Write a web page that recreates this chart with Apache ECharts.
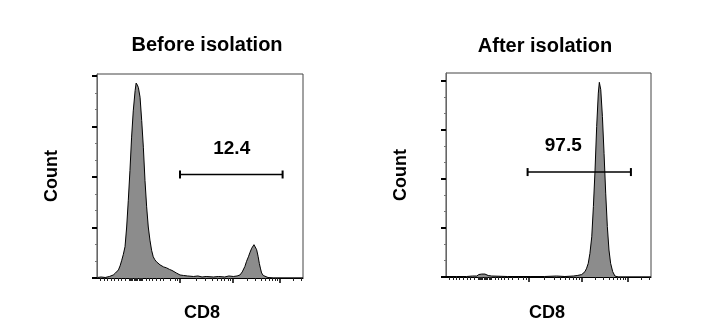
<!DOCTYPE html>
<html>
<head>
<meta charset="utf-8">
<script src="https://cdn.jsdelivr.net/npm/echarts@6.0.0/dist/echarts.min.js"></script>
<style>
  html, body { margin: 0; padding: 0; background: #fff; }
  #main { width: 713px; height: 334px; }
</style>
</head>
<body>
<div id="main"></div>
<script>
// x is in display units 0..100 (biexponential CD8 scale), y is count in axis units
const beforeData = [
  [0.2, 0.01], [2, 0.02], [4, 0.01], [6, 0.03], [7.9, 0.06], [9, 0.1], [10.4, 0.16], [11.2, 0.24],
  [12, 0.35], [12.8, 0.47], [13.6, 0.62], [14.4, 1.01], [15.2, 1.54], [16, 2.13], [16.8, 2.79],
  [17.6, 3.31], [18.5, 3.71], [19.0, 3.86], [19.3, 3.89], [19.6, 3.82], [20.1, 3.77], [20.9, 3.58],
  [21.7, 3.12], [22.5, 2.59], [23.3, 1.93], [24.1, 1.41], [24.9, 1.01], [25.7, 0.75], [26.5, 0.55],
  [27.3, 0.42], [28.1, 0.36], [28.9, 0.32], [29.8, 0.29], [30.6, 0.26], [31.5, 0.24], [32.3, 0.22],
  [33.8, 0.2], [35.2, 0.17], [36.4, 0.15], [37.1, 0.13], [38.5, 0.1], [40.3, 0.06], [42, 0.05],
  [44, 0.04], [46.8, 0.03], [49, 0.04], [51, 0.02], [53, 0.03], [56.5, 0.02], [59, 0.03], [62, 0.02],
  [64, 0.04], [66.2, 0.03], [68, 0.04], [69.4, 0.06], [70.5, 0.12], [71.8, 0.23], [72.6, 0.33],
  [73.5, 0.42], [74.3, 0.51], [75.1, 0.59], [76.2, 0.66], [76.8, 0.63], [77.5, 0.56], [78.2, 0.43],
  [78.8, 0.29], [79.4, 0.18], [79.9, 0.1], [80.7, 0.05], [81.5, 0.02], [83, 0.01], [85.6, 0], [100, 0]
]
const afterData = [
  [0, 0.01], [5, 0.01], [10, 0.01], [13, 0.02], [15, 0.02], [16, 0.05], [16.6, 0.04], [17.4, 0.06],
  [18.2, 0.03], [19, 0.06], [19.8, 0.05], [20.6, 0.03], [21.5, 0.04], [22.3, 0.02], [23.1, 0.01],
  [30, 0.01], [41, 0.01], [48, 0.01], [53.9, 0.02], [58, 0.01], [62.1, 0.02], [64, 0.03], [66.2, 0.05],
  [67.8, 0.11], [68.6, 0.18], [69.4, 0.28], [70.2, 0.48], [71.1, 0.82], [71.9, 1.44], [72.7, 2.18],
  [73.5, 3.07], [74.3, 3.75], [74.8, 3.97], [75.5, 3.82], [76.3, 3.27], [77.1, 2.52], [77.9, 1.71],
  [78.7, 1.03], [79.5, 0.55], [80.3, 0.28], [81.3, 0.11], [82.4, 0.02], [84.1, 0], [100, 0]
]

const titles = ['Before isolation', 'After isolation']
const gatePct = ['12.4', '97.5']
// gate: [from, to, height]; label: [x, y]
const gates = [[40.3, 90.1, 2.05], [39.8, 90.2, 2.14]]
const gateLabels = [[65.4, 2.56], [57.2, 2.68]]
const yMaxes = [4.04, 4.16]

const yMajorTicks = [0, 1, 2, 3, 4]
const yMinorTicks = [0.333, 0.667, 1.333, 1.667, 2.333, 2.667, 3.333, 3.667]
const xMajorTicks = [40.3, 66, 88.5]
const xMinorTicks = [
  1.5, 3.4, 5, 6.7, 8.3, 10.3, 12, 13.6,
  15.5, 16.1, 16.7, 17.3, 17.9, 18.5, 19.1, 19.7, 20.3, 20.9, 21.5, 22.1,
  23.8, 25.4, 27, 28.6, 30.6, 32.2, 35.4, 37.9, 39,
  48.0, 52.6, 55.8, 58.3, 60.3, 62.0, 63.5, 64.8,
  72.8, 76.7, 79.5, 81.7, 83.5, 85.0, 86.3, 87.5,
  95.3, 99.2
]

const grids = [
  {left: 97, top: 74, width: 206, height: 204},
  {left: 446, top: 73, width: 205, height: 204}
]
const FONT = "'Liberation Sans', Arial, sans-serif"

const xAxes = []
const yAxes = []
const series = []
const dataSets = [beforeData, afterData]

for (let i = 0; i < 2; i++) {
  xAxes.push({
    gridIndex: i, type: 'value', position: 'bottom', min: 0, max: 100,
    axisLine: {lineStyle: {color: '#000', width: 1}},
    axisTick: {customValues: xMajorTicks, length: 5, lineStyle: {color: '#000', width: 1.5}},
    axisLabel: {show: false},
    splitLine: {show: false}
  })
  xAxes.push({
    gridIndex: i, type: 'value', position: 'bottom', min: 0, max: 100,
    axisLine: {show: false},
    axisTick: {customValues: xMinorTicks, length: 3, lineStyle: {color: '#222', width: 1}},
    axisLabel: {show: false},
    splitLine: {show: false}
  })
  yAxes.push({
    gridIndex: i, type: 'value', position: 'left', min: 0, max: yMaxes[i],
    axisLine: {show: true, lineStyle: {color: '#666', width: 1}},
    axisTick: {show: true, customValues: yMajorTicks, length: 5, lineStyle: {color: '#000', width: 2}},
    axisLabel: {show: false},
    splitLine: {show: false}
  })
  yAxes.push({
    gridIndex: i, type: 'value', position: 'left', min: 0, max: yMaxes[i],
    axisLine: {show: false},
    axisTick: {show: true, customValues: yMinorTicks, length: 2, lineStyle: {color: '#777', width: 1}},
    axisLabel: {show: false},
    splitLine: {show: false}
  })

  series.push({
    type: 'line',
    xAxisIndex: 2 * i,
    yAxisIndex: 2 * i,
    data: dataSets[i],
    symbol: 'none',
    showSymbol: false,
    silent: true,
    lineStyle: {color: '#000', width: 1},
    areaStyle: {color: '#8c8c8c', opacity: 1}
  })
  series.push({
    type: 'line',
    xAxisIndex: 2 * i,
    yAxisIndex: 2 * i,
    data: [[gates[i][0], gates[i][2]], [gates[i][1], gates[i][2]]],
    symbol: 'rect',
    symbolSize: [2, 8],
    silent: true,
    z: 5,
    itemStyle: {color: '#000'},
    lineStyle: {color: '#000', width: 1.5}
  })
  series.push({
    type: 'scatter',
    xAxisIndex: 2 * i,
    yAxisIndex: 2 * i,
    data: [gateLabels[i]],
    symbolSize: 1,
    itemStyle: {color: '#000', opacity: 0},
    silent: true,
    z: 6,
    label: {
      show: true,
      position: 'inside',
      formatter: gatePct[i],
      color: '#000',
      opacity: 1,
      textBorderWidth: 0,
      fontFamily: FONT,
      fontWeight: 'bold',
      fontSize: 19
    }
  })
}

const textStyle = (txt, size) => ({
  text: txt,
  fill: '#000',
  font: 'bold ' + size + 'px ' + FONT,
  textAlign: 'center',
  textVerticalAlign: 'middle'
})

const option = {
  animation: false,
  backgroundColor: '#fff',
  grid: grids.map(g => Object.assign({show: true, borderColor: '#444', borderWidth: 1, backgroundColor: 'transparent'}, g)),
  xAxis: xAxes,
  yAxis: yAxes,
  series: series,
  graphic: [
    {type: 'text', x: 207, y: 45, style: textStyle(titles[0], 20)},
    {type: 'text', x: 545, y: 46, style: textStyle(titles[1], 20)},
    {type: 'text', x: 52, y: 176, rotation: Math.PI / 2, style: textStyle('Count', 18)},
    {type: 'text', x: 401, y: 175, rotation: Math.PI / 2, style: textStyle('Count', 18)},
    {type: 'text', x: 202, y: 313, style: textStyle('CD8', 18)},
    {type: 'text', x: 547, y: 313, style: textStyle('CD8', 18)}
  ]
}

const chart = echarts.init(document.getElementById('main'), null, {renderer: 'canvas'})
chart.setOption(option)
</script>
</body>
</html>
